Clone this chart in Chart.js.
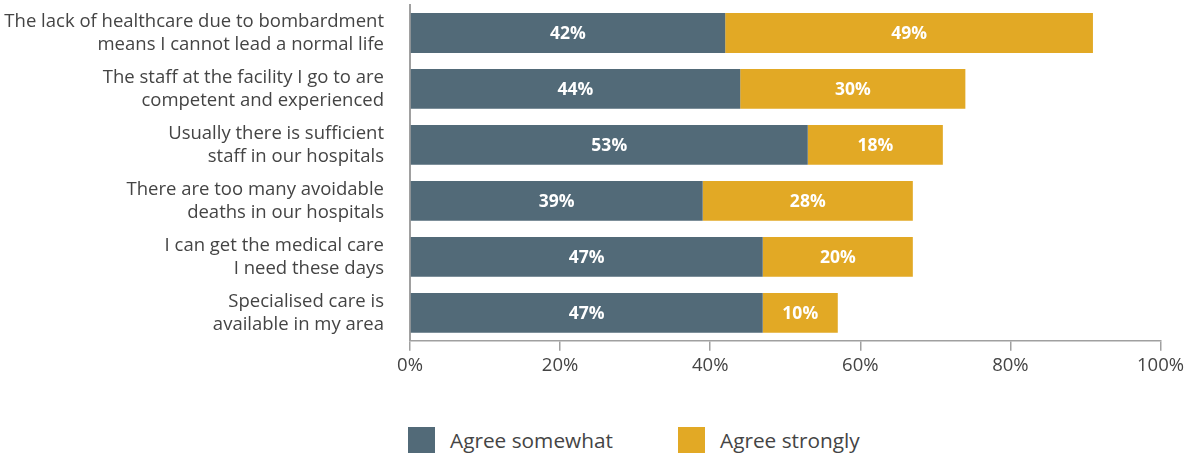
<!DOCTYPE html>
<html>
<head>
<meta charset="utf-8">
<script src="https://cdn.jsdelivr.net/npm/chart.js@4"></script>
<style>
  html, body { margin: 0; padding: 0; background: #fff; }
  #wrap { position: relative; width: 1188px; height: 455px; font-family: "Open Sans", sans-serif; }
  #box { position: absolute; left: 0; top: 0; width: 1188px; height: 390px; }
  #legend { position: absolute; top: 427px; left: 0; height: 27px; }
  .item { position: absolute; top: 0; display: flex; align-items: center; height: 26px; white-space: nowrap; }
  .sw { width: 27px; height: 26px; margin-right: 15px; }
  .lt { font-size: 20.8px; color: #444; line-height: 26px; }
</style>
</head>
<body>
<div id="wrap">
  <div id="box"><canvas id="c"></canvas></div>
  <div id="legend"></div>
</div>
<script>
const categories = [
  ["The lack of healthcare due to bombardment", "means I cannot lead a normal life"],
  ["The staff at the facility I go to are", "competent and experienced"],
  ["Usually there is sufficient", "staff in our hospitals"],
  ["There are too many avoidable", "deaths in our hospitals"],
  ["I can get the medical care", "I need these days"],
  ["Specialised care is", "available in my area"]
];
const seriesNames = ["Agree somewhat", "Agree strongly"];
const agreeSomewhat = [42, 44, 53, 39, 47, 47];
const agreeStrongly = [49, 30, 18, 28, 20, 10];
const xTicks = [0, 20, 40, 60, 80, 100];
const colors = ["#526a78", "#e2a925"];

const barLabels = {
  id: "barLabels",
  afterDatasetsDraw(chart) {
    const ctx = chart.ctx;
    ctx.save();
    ctx.fillStyle = "#ffffff";
    ctx.font = "bold 17.5px 'Open Sans'";
    ctx.textAlign = "center";
    ctx.textBaseline = "middle";
    chart.data.datasets.forEach((ds, di) => {
      const meta = chart.getDatasetMeta(di);
      meta.data.forEach((el, i) => {
        const p = el.getProps(["x", "y", "base"], true);
        ctx.fillText(ds.data[i] + "%", (p.x + p.base) / 2, p.y + 1.5);
      });
    });
    ctx.restore();
  }
};

const chart = new Chart(document.getElementById("c"), {
  type: "bar",
  data: {
    labels: categories,
    datasets: [
      { label: seriesNames[0], data: agreeSomewhat, backgroundColor: colors[0] },
      { label: seriesNames[1], data: agreeStrongly, backgroundColor: colors[1] }
    ]
  },
  options: {
    indexAxis: "y",
    responsive: true,
    maintainAspectRatio: false,
    animation: false,
    layout: { padding: { top: 5, right: 26, bottom: 9, left: 0 } },
    datasets: { bar: { barPercentage: 0.712, categoryPercentage: 1 } },
    plugins: { legend: { display: false }, tooltip: { enabled: false } },
    scales: {
      x: {
        stacked: true,
        min: 0,
        max: 100,
        afterBuildTicks(scale) { scale.ticks = xTicks.map(v => ({ value: v })); },
        ticks: {
          callback: v => v + "%",
          color: "#444",
          font: { family: "Open Sans", size: 18.5 },
          padding: 4,
          maxRotation: 0,
          autoSkip: false
        },
        grid: { display: true, drawOnChartArea: false, drawTicks: true, tickLength: 10, color: "#a0a0a0", lineWidth: 1.5 },
        border: { display: true, color: "#a0a0a0", width: 1.5 }
      },
      y: {
        stacked: true,
        afterFit(scale) {
          scale.width = 410;
          scale.paddingTop = 0;
          scale.paddingBottom = 0;
        },
        ticks: {
          color: "#444",
          font: { family: "Open Sans", size: 18.5, lineHeight: 1.24 },
          padding: 26,
          autoSkip: false
        },
        grid: { display: false, drawTicks: false },
        border: { display: true, color: "#a0a0a0", width: 2 }
      }
    }
  },
  plugins: [barLabels]
});

// HTML legend built from the dataset names/colors
const legend = document.getElementById("legend");
const positions = [408, 678];
seriesNames.forEach((name, i) => {
  const it = document.createElement("div");
  it.className = "item";
  it.style.left = positions[i] + "px";
  const sw = document.createElement("div");
  sw.className = "sw";
  sw.style.background = colors[i];
  const t = document.createElement("span");
  t.className = "lt";
  t.textContent = name;
  it.appendChild(sw);
  it.appendChild(t);
  legend.appendChild(it);
});
</script>
</body>
</html>
